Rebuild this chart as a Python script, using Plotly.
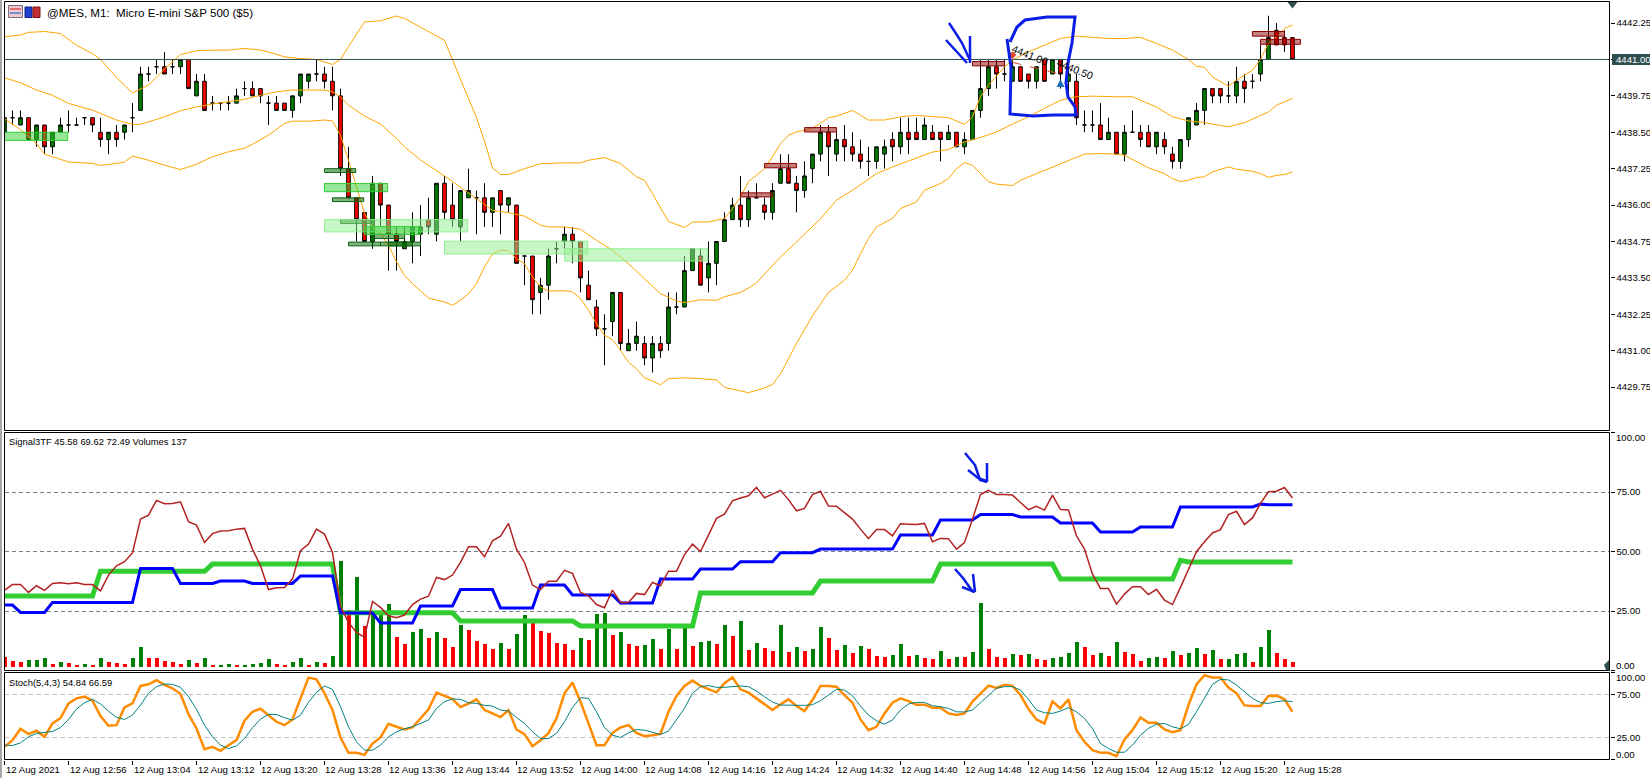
import pandas as pd
import plotly.graph_objects as go

### MES M1 chart: candles + bands, Signal3TF + volumes, Stoch

# --- Datos ---
start = pd.Timestamp("2021-08-12 12:48")
times = pd.date_range(start, periods=162, freq="min")

opens = [
    4438.5, 4439, 4438.75, 4439, 4438.25, 4438.75, 4438, 4438.5, 4438.75, 4438.75,
    4439, 4439, 4438.5, 4438.25, 4438.5, 4438.5, 4439, 4439.25, 4440.5, 4440.75,
    4440.75, 4440.75, 4440.75, 4441, 4439.75, 4440.25, 4439.5, 4439.5, 4439.5, 4439.5,
    4440, 4440, 4440, 4439.5, 4439.5, 4439.5, 4439.25, 4439.75, 4440.25, 4440.5,
    4440.5, 4440.25, 4439.75, 4437.25, 4436.25, 4435.75, 4434.75, 4436.75, 4436, 4435,
    4434.5, 4434.75, 4435, 4435.5, 4435, 4436.75, 4436, 4435.25, 4436.25, 4436.25,
    4436.25, 4435.75, 4436.5, 4436, 4436, 4434.25, 4434.25, 4433, 4433.25, 4434.5,
    4434.75, 4435, 4434.75, 4433.25, 4432.5, 4431.75, 4432, 4433, 4431, 4431.25,
    4431.25, 4430.75, 4431.25, 4431.25, 4432.5, 4432.5, 4433.75, 4434.25, 4433.5, 4434,
    4434.75, 4435.5, 4436, 4435.5, 4436.25, 4436, 4435.75, 4436.75, 4437.25, 4436.75,
    4436.5, 4437.25, 4437.75, 4438.5, 4437.75, 4438.25, 4438, 4437.75, 4437.5, 4437.5,
    4437.75, 4438.25, 4438, 4438.5, 4438.5, 4438.25, 4438.5, 4438.5, 4438.25, 4438.5,
    4438, 4438.25, 4439.25, 4440, 4440.75, 4440.5, 4440.25, 4440.75, 4440.5, 4440.25,
    4441, 4440.5, 4441, 4440.25, 4440.25, 4438.75, 4438.75, 4438.75, 4438.25, 4438.5,
    4437.75, 4438.5, 4438.5, 4438.5, 4438, 4438.25, 4437.75, 4437.5, 4438.25, 4438.75,
    4439.25, 4440, 4440, 4439.75, 4439.75, 4440.25, 4440.25, 4440.5, 4441, 4442,
    4441.75, 4441.75,
]
highs = [
    4439, 4439.25, 4439.25, 4439, 4438.75, 4438.75, 4438.5, 4439, 4439.25, 4439,
    4439, 4439, 4439, 4438.5, 4438.75, 4438.75, 4439.5, 4440.75, 4440.75, 4441,
    4441.25, 4441, 4441, 4441, 4440.5, 4440.5, 4439.75, 4439.5, 4439.75, 4440,
    4440.25, 4440.25, 4440, 4439.75, 4439.75, 4439.5, 4439.75, 4440.5, 4440.5, 4441,
    4440.75, 4440.75, 4440, 4438, 4436.25, 4435.75, 4437, 4436.75, 4436, 4435.25,
    4435.25, 4435.75, 4436, 4436.25, 4436.75, 4437, 4436.75, 4436.5, 4437.25, 4436.5,
    4436.75, 4436.25, 4436.5, 4436.25, 4436, 4434.25, 4434.25, 4433.5, 4434.5, 4434.75,
    4435.25, 4435.25, 4434.75, 4433.75, 4432.75, 4432.25, 4433, 4433, 4431.75, 4432,
    4431.5, 4431.5, 4431.5, 4433, 4433, 4434.25, 4434.5, 4434.5, 4434.75, 4434.75,
    4435.75, 4436.25, 4437, 4436.5, 4436.75, 4436.25, 4436.75, 4437.75, 4437.75, 4437,
    4437.5, 4437.75, 4438.75, 4438.75, 4438.5, 4438.75, 4438.5, 4438.25, 4438, 4438,
    4438.25, 4438.5, 4439, 4439, 4439, 4439, 4438.75, 4438.5, 4438.75, 4438.5,
    4438.5, 4439.25, 4441, 4441, 4441, 4441, 4441, 4440.75, 4440.5, 4440.75,
    4441, 4441, 4441, 4440.75, 4440.5, 4439.25, 4439.25, 4439.5, 4439, 4438.5,
    4438.75, 4439.25, 4438.75, 4438.75, 4438.5, 4438.5, 4438, 4438.25, 4439, 4439.5,
    4440, 4440, 4440, 4440.25, 4440.75, 4440.5, 4440.5, 4441.5, 4442.5, 4442.25,
    4442, 4441.75,
]
lows = [
    4438.25, 4438.75, 4438.75, 4438.25, 4438, 4437.75, 4437.75, 4438.5, 4438.5, 4438.75,
    4438.75, 4438.5, 4438, 4437.75, 4438, 4438.25, 4438.5, 4439.25, 4440.25, 4440.5,
    4440.5, 4440.5, 4440.5, 4440, 4439.75, 4439.25, 4439.25, 4439.25, 4439.25, 4439.5,
    4439.75, 4439.75, 4439.5, 4438.75, 4439.25, 4439.25, 4439, 4439.5, 4440, 4440.25,
    4440, 4439.25, 4437, 4436.25, 4434.75, 4434.75, 4434.5, 4435.25, 4433.75, 4433.75,
    4434.5, 4434, 4434.25, 4435, 4434.75, 4435.5, 4435.25, 4434.75, 4436.25, 4435,
    4435.25, 4435.25, 4435, 4435.75, 4434, 4433.25, 4432.25, 4432.25, 4432.75, 4434,
    4434.5, 4434, 4433, 4432.75, 4431.5, 4430.5, 4431.5, 4431, 4431, 4431,
    4430.5, 4430.25, 4430.75, 4431, 4432.25, 4432.5, 4433.75, 4433.25, 4433, 4433.25,
    4434.75, 4435.5, 4435.25, 4435.25, 4436.25, 4435.5, 4435.5, 4436.75, 4436.75, 4435.75,
    4436.25, 4436.75, 4437.5, 4437, 4437.5, 4437.5, 4437.5, 4437.25, 4437, 4437.25,
    4437.25, 4437.5, 4437.75, 4437.75, 4438.25, 4438.25, 4438.25, 4437.5, 4438.25, 4438,
    4437.75, 4438.25, 4439, 4439.75, 4440, 4440.25, 4440.25, 4440.25, 4440, 4440,
    4440.25, 4440.5, 4440, 4439.75, 4438.75, 4438.5, 4438.5, 4438.25, 4438.25, 4437.75,
    4437.5, 4438.5, 4438, 4438, 4437.75, 4437.75, 4437.25, 4437.25, 4438, 4438.75,
    4438.75, 4439.5, 4439.5, 4439.5, 4439.5, 4439.5, 4440, 4440.25, 4441, 4441.5,
    4441.25, 4441,
]
closes = [
    4439, 4439, 4439, 4438.25, 4438.75, 4438, 4438.5, 4438.75, 4438.75, 4438.75,
    4439, 4438.75, 4438.25, 4438.5, 4438.25, 4438.75, 4439, 4440.5, 4440.5, 4440.75,
    4440.5, 4440.75, 4441, 4440, 4440.25, 4439.25, 4439.5, 4439.5, 4439.5, 4439.75,
    4440, 4439.75, 4439.75, 4439.5, 4439.25, 4439.25, 4439.75, 4440.5, 4440.5, 4440.5,
    4440.25, 4439.75, 4437.25, 4436.25, 4435.5, 4434.75, 4436.75, 4436, 4435, 4434.75,
    4434.75, 4435.25, 4435.25, 4435.25, 4436.75, 4435.75, 4435.5, 4436.5, 4436.5, 4436.25,
    4435.75, 4436.25, 4436, 4436.25, 4434, 4434.25, 4432.75, 4433.25, 4434.25, 4434.5,
    4435, 4434.75, 4433.5, 4432.75, 4431.75, 4431.75, 4433, 4431.25, 4431.25, 4431.5,
    4430.75, 4431.25, 4431, 4432.5, 4432.5, 4433.75, 4434.5, 4433.25, 4434, 4434.75,
    4435.5, 4436, 4435.5, 4436.25, 4436.25, 4435.75, 4436.5, 4437.25, 4436.75, 4436.5,
    4437, 4437.75, 4438.5, 4438, 4438.25, 4438, 4437.75, 4437.5, 4437.5, 4438,
    4438, 4438, 4438.5, 4438.25, 4438.25, 4438.75, 4438.25, 4438.25, 4438.5, 4438,
    4438.25, 4439.25, 4440, 4440.75, 4440.5, 4440.5, 4440.75, 4440.25, 4440.25, 4440.75,
    4440.25, 4441, 4440.5, 4440.5, 4439, 4438.75, 4438.75, 4438.25, 4438.5, 4437.75,
    4438.5, 4438.5, 4438.25, 4438, 4438.5, 4438, 4437.5, 4438.25, 4439, 4439.25,
    4440, 4439.75, 4439.75, 4439.75, 4440.25, 4440, 4440.25, 4441, 4441.75, 4441.5,
    4441.5, 4441,
]

# Bandas: barra / valor en los vertices de cada curva
bb_upper_bars = [0, 2, 3, 5, 7, 9, 11, 12, 14, 16, 18, 20, 22, 24, 26, 28, 30, 32, 33, 35, 37, 39, 41, 42, 43, 45, 47, 49, 50, 52,
                 55, 57, 59, 60, 61, 62, 63, 65, 67, 70, 72, 73, 75, 77, 79, 80, 81, 82, 83, 85, 86, 88, 90, 91, 92, 93, 95, 96, 97, 98,
                 99, 101, 103, 104, 106, 107, 108, 110, 112, 114, 116, 118, 120, 121, 122, 123, 124, 125, 126, 128, 130, 132, 134, 136, 138, 140, 142, 144, 146, 148,
                 149, 150, 151, 153, 154, 155, 156, 157, 158, 159, 160, 161]
bb_upper = [4441.78, 4441.84, 4441.93, 4441.96, 4441.89, 4441.49, 4441.2, 4441.0, 4440.38, 4439.85, 4440.12, 4440.67, 4441.17, 4441.3, 4441.32, 4441.32, 4441.38, 4441.32, 4441.26, 4441.09, 4441.03, 4441.0, 4440.83, 4441, 4441.44, 4442.29, 4442.33, 4442.49, 4442.41, 4442.12,
            4441.66, 4440.32, 4439.0, 4438.2, 4437.28, 4437.05, 4437.05, 4437.25, 4437.42, 4437.45, 4437.45, 4437.54, 4437.63, 4437.43, 4436.97, 4436.85, 4436.4, 4435.9, 4435.44, 4435.23, 4435.42, 4435.42, 4435.54, 4435.88, 4436.28, 4436.8, 4437.25, 4437.66, 4438.11, 4438.4,
            4438.51, 4438.63, 4439.0, 4439.05, 4439.25, 4439.09, 4438.92, 4438.92, 4439.03, 4439.08, 4439.03, 4439, 4438.77, 4439.03, 4439.72, 4440.12, 4440.43, 4440.75, 4440.98, 4441.26, 4441.49, 4441.72, 4441.8, 4441.76, 4441.72, 4441.72, 4441.76, 4441.55, 4441.32, 4441,
            4440.77, 4440.73, 4440.4, 4440.08, 4440.29, 4440.46, 4440.63, 4441, 4441.55, 4441.78, 4442.07, 4442.18]

bb_mid_bars = [0, 2, 4, 6, 8, 11, 14, 16, 17, 18, 20, 22, 24, 26, 28, 30, 32, 34, 36, 38, 40, 41, 42, 43, 45, 47, 49, 50, 52, 55,
               57, 59, 61, 63, 65, 67, 68, 70, 72, 74, 76, 78, 80, 82, 84, 85, 87, 89, 90, 92, 93, 94, 97, 99, 102, 104, 106, 109, 111, 113,
               116, 118, 120, 122, 124, 126, 128, 130, 132, 134, 136, 139, 141, 142, 144, 146, 148, 150, 152, 153, 155, 157, 158, 159, 160, 161]
bb_mid = [4440.37, 4440.2, 4439.95, 4439.77, 4439.49, 4439.26, 4438.92, 4438.77, 4438.77, 4438.86, 4439.03, 4439.24, 4439.37, 4439.47, 4439.55, 4439.63, 4439.77, 4439.89, 4439.95, 4439.95, 4439.95, 4439.89, 4439.72, 4439.43, 4439.06, 4438.78, 4438.29, 4438.0, 4437.55, 4437.0,
          4436.62, 4436.22, 4435.82, 4435.74, 4435.62, 4435.31, 4435.25, 4435.25, 4435.17, 4434.79, 4434.45, 4433.99, 4433.47, 4432.96, 4432.71, 4432.65, 4432.75, 4432.73, 4432.85, 4433.0, 4433.15, 4433.33, 4434.22, 4434.73, 4435.53, 4436.17, 4436.51, 4437.08, 4437.31, 4437.52,
          4437.82, 4437.91, 4438.17, 4438.32, 4438.51, 4438.78, 4439.03, 4439.32, 4439.6, 4439.72, 4439.74, 4439.72, 4439.72, 4439.6, 4439.37, 4439.03, 4438.89, 4438.83, 4438.72, 4438.69, 4438.83, 4439.09, 4439.2, 4439.43, 4439.55, 4439.66]

bb_lower_bars = [0, 2, 4, 5, 6, 8, 11, 12, 14, 15, 16, 18, 20, 22, 24, 26, 28, 30, 31, 33, 35, 36, 38, 40, 41, 42, 43, 44, 45, 46,
                 47, 48, 49, 50, 51, 53, 55, 56, 57, 58, 59, 60, 61, 62, 63, 64, 65, 66, 67, 68, 70, 71, 72, 73, 74, 75, 76, 77, 78, 79,
                 80, 81, 82, 83, 85, 87, 89, 90, 91, 93, 95, 96, 97, 98, 99, 101, 103, 105, 106, 107, 108, 109, 111, 112, 114, 115, 117, 118, 119, 120,
                 121, 123, 124, 126, 127, 129, 131, 133, 135, 137, 139, 140, 142, 143, 145, 146, 147, 148, 149, 150, 151, 153, 154, 155, 156, 157, 158, 159, 160, 161]
bb_lower = [4438.97, 4438.59, 4438.11, 4437.75, 4437.66, 4437.48, 4437.43, 4437.36, 4437.43, 4437.48, 4437.68, 4437.54, 4437.37, 4437.22, 4437.4, 4437.66, 4437.83, 4437.95, 4438.09, 4438.4, 4438.8, 4438.88, 4438.88, 4438.92, 4438.89, 4438.4, 4437.54, 4436.62, 4435.71, 4435.25,
            4435.02, 4434.62, 4434.05, 4433.59, 4433.3, 4432.81, 4432.67, 4432.56, 4432.73, 4432.96, 4433.3, 4433.88, 4434.33, 4434.45, 4434.43, 4434.16, 4433.99, 4433.53, 4433.19, 4433.05, 4433.06, 4433.02, 4432.79, 4432.39, 4431.93, 4431.53, 4431.38, 4431.01, 4430.61, 4430.38,
            4430.07, 4429.96, 4429.83, 4430.04, 4430.07, 4430.04, 4430, 4429.74, 4429.68, 4429.56, 4429.72, 4429.84, 4430.2, 4430.75, 4431.25, 4432.2, 4433.0, 4433.42, 4433.76, 4434.33, 4434.85, 4435.25, 4435.54, 4435.88, 4436.11, 4436.51, 4436.74, 4436.91, 4437.25, 4437.46,
            4437.37, 4436.8, 4436.72, 4436.67, 4436.85, 4437.08, 4437.31, 4437.54, 4437.75, 4437.77, 4437.75, 4437.71, 4437.43, 4437.28, 4437.08, 4436.91, 4436.81, 4436.85, 4436.95, 4436.97, 4437.14, 4437.31, 4437.23, 4437.2, 4437.16, 4437.08, 4436.95, 4437.02, 4437.05, 4437.14]

volumes = [
    280, 164, 135, 193, 193, 251, 87, 135, 106, 29,
    77, 29, 251, 135, 106, 87, 251, 570, 251, 245,
    164, 135, 77, 193, 106, 251, 48, 48, 77, 40,
    48, 77, 106, 222, 77, 48, 135, 251, 48, 135,
    106, 309, 3065, 1644, 2601, 1180, 1606, 1606, 1810, 861,
    658, 1006, 1093, 832, 1006, 832, 571, 1209, 1064, 745,
    658, 522, 687, 522, 948, 1499, 1296, 1035, 977, 687,
    658, 484, 832, 774, 1528, 1557, 919, 1006, 658, 600,
    629, 803, 513, 1093, 513, 1122, 600, 716, 745, 658,
    1209, 890, 1325, 484, 687, 542, 455, 1209, 426, 571,
    455, 513, 1151, 832, 484, 629, 397, 600, 513, 310,
    281, 339, 658, 310, 339, 252, 223, 455, 223, 281,
    270, 426, 1847, 513, 281, 252, 368, 339, 368, 223,
    194, 252, 281, 397, 716, 571, 339, 397, 310, 716,
    426, 368, 164, 252, 281, 252, 455, 339, 397, 542,
    368, 484, 223, 223, 368, 397, 135, 571, 1064, 397,
    223, 137,
]

signal_fast = [
    33.8, 36.1, 36.1, 32.8, 35.6, 33.7, 36.6, 36.9, 36.5, 36.9,
    36.1, 36.1, 33.5, 40.1, 44, 45.7, 49.4, 63.6, 65.3, 71.5,
    70.1, 70.2, 70.9, 62.5, 61.1, 53.8, 57.5, 58.6, 58.7, 59.4,
    59.7, 51, 44, 34, 34.8, 34.9, 38.4, 50.3, 53.1, 59.4,
    57.3, 49.6, 27, 20.2, 16, 13.9, 29, 26.5, 23, 22.2,
    23.3, 27.7, 30, 31.2, 39.1, 38.2, 40.1, 45.4, 52, 52,
    47.8, 54.5, 56.4, 61.8, 51, 45.4, 35.9, 34, 37.5, 37.5,
    42.1, 40.8, 32.8, 31.4, 27.7, 26.4, 33.8, 28.6, 28.6, 32.4,
    31.9, 37, 35.6, 41.7, 41.7, 48.7, 53.1, 50, 56.9, 63.9,
    65.7, 71.3, 72.5, 73.4, 76.9, 72.6, 74.1, 75.7, 71.8, 67.1,
    68.1, 73.9, 75.3, 69.1, 69, 66.4, 63.6, 59.4, 55.4, 59.2,
    59.2, 56.6, 61.7, 61.5, 61.3, 61.8, 54.1, 55.5, 55.4, 51,
    53.8, 63.6, 73.9, 75.7, 73.9, 73.9, 73.7, 70.6, 67.6, 69,
    67.4, 73.7, 67.6, 67.4, 56.6, 51, 40.5, 34.5, 34.5, 27.9,
    32.1, 35.2, 35.2, 31.9, 34.1, 29.6, 27.7, 34.9, 42.6, 49.9,
    54.1, 57.8, 59.2, 65.5, 66.9, 61.3, 64.1, 70.2, 75.1, 75.3,
    76.9, 72.49,
]
signal_mid_bars = [0, 1, 2, 5, 6, 16, 17, 21, 22, 26, 27, 30, 31, 36, 37, 41, 42, 46, 47, 51, 52, 56, 57, 61, 62, 66, 67, 70, 71, 76,
                   77, 81, 82, 86, 87, 91, 92, 96, 97, 101, 102, 111, 112, 116, 117, 121, 122, 126, 127, 131, 132, 136, 137, 141, 142, 146, 147, 156, 157, 158, 161]
signal_mid = [27.5, 27.5, 24.4, 24.4, 28.6, 28.6, 42.9, 42.9, 36.6, 36.6, 37.6, 37.6, 36.6, 36.6, 39.7, 39.7, 24.2, 24.2, 20, 20, 27.1, 27.1, 34, 34, 26.3, 26.3, 35.9, 35.9, 31.7, 31.7,
              28.4, 28.4, 38.4, 38.4, 42.6, 42.6, 45.7, 45.7, 49.5, 49.5, 51, 51, 56.9, 56.9, 63.2, 63.2, 65.5, 65.5, 64.5, 64.5, 62, 62, 58.2, 58.2, 60.3, 60.3, 68.7, 68.7, 69.9, 69.6, 69.62]
signal_slow_bars = [0, 11, 12, 25, 26, 41, 42, 56, 57, 71, 72, 86, 87, 101, 102, 116, 117, 131, 132, 146, 147, 148, 161]
signal_slow = [31.3, 31.3, 41.7, 41.7, 44.7, 44.7, 24.3, 24.3, 20.8, 20.8, 18.7, 18.7, 32.6, 32.6, 37.6, 37.6, 44.7, 44.7, 38.4, 38.4, 46.3, 45.58, 45.58]

stoch_main = [
    14.1, 21.9, 35.1, 28.9, 32.8, 25.8, 41.3, 47.5, 64.5, 70.3,
    72.3, 67.6, 49.8, 38.6, 39.3, 59.9, 64.5, 84.7, 86.6, 91.3,
    85.9, 82, 75.4, 52.1, 35.5, 11.4, 14.1, 9.5, 16.1, 21.9,
    44.4, 54.8, 58.3, 51, 43.2, 39.3, 45.9, 70.3, 94.4, 92.4,
    76.2, 56.8, 25, 7.2, 7.2, 4.8, 18, 25, 40.9, 37.4,
    34.3, 36.6, 47.1, 57.6, 76.9, 73.4, 69.6, 60.3, 64.2, 69.2,
    56.8, 52.9, 48.6, 56.8, 34.3, 28.9, 14.9, 21.9, 30, 47.1,
    76.2, 88.6, 66.5, 41.3, 16.1, 16.1, 30.4, 36.6, 39.3, 30.4,
    26.6, 27.7, 29.3, 54.8, 73.1, 84.7, 90.9, 84.7, 80.8, 77.3,
    87.8, 94.8, 80.8, 76.9, 70.3, 63.8, 56.8, 63.4, 69.2, 61.4,
    55.6, 68.4, 84.7, 84.7, 83.9, 74.2, 65.3, 45.9, 33.5, 37.4,
    52.9, 65.3, 70.3, 67.2, 63, 63, 59.5, 59.5, 52.9, 51,
    52.9, 66.5, 76.2, 85.1, 82.4, 86.2, 84.7, 74.2, 57.9, 45.9,
    41.3, 66.9, 58.7, 69.2, 33.5, 20, 10.3, 7.2, 7.2, 3.3,
    22.7, 33.5, 48.3, 42.1, 42.1, 34.3, 31.2, 33.5, 62.6, 86.6,
    97.1, 94.4, 94.4, 82.8, 76.2, 62.2, 61.4, 61.4, 73.1, 73.5,
    69.2, 54.84,
]
stoch_signal = [
    16.1, 15.7, 18.8, 25.8, 29.7, 30.8, 32, 36.6, 45.9, 57.9,
    65.3, 69.2, 63.8, 55.6, 48.3, 45.9, 51, 62.6, 76.2, 83.9,
    87, 86.6, 83.1, 72.3, 57.6, 39.3, 25.8, 16.1, 12.2, 15.3,
    23.8, 36.2, 46.3, 51.7, 51.7, 47.9, 45.2, 51, 65.7, 77.3,
    84.7, 80.8, 60.7, 37.4, 20, 10.3, 10.3, 16.1, 25.8, 31.6,
    35.1, 37.4, 41.3, 45.2, 58.7, 66.5, 69.6, 69.2, 65.3, 64.5,
    62.2, 61.4, 56.8, 55.6, 48.3, 41.3, 31.6, 23.8, 23.8, 29.7,
    43.2, 59.9, 71.1, 70.3, 54.8, 36.6, 27.7, 25, 30.4, 34.3,
    33.5, 31.2, 28.5, 32.4, 45.9, 58.7, 76.2, 83.9, 85.1, 83.1,
    83.1, 84.3, 84.7, 83.9, 78.9, 72.3, 66.1, 62.6, 62.2, 62.2,
    62.2, 63, 67.6, 74.2, 80.8, 80, 73.4, 61.4, 51, 44.4,
    40.5, 45.2, 56.8, 63.8, 65.7, 65.7, 61.8, 60.7, 58.7, 54.8,
    54.5, 56.8, 65.3, 74.2, 82, 83.9, 83.9, 80, 69.2, 56.8,
    53.7, 52.9, 55.6, 59.5, 54.8, 47.1, 35.5, 18, 12.2, 7.9,
    7.9, 16.1, 27.7, 35.5, 40.5, 41.3, 37.4, 35.1, 40.1, 54.8,
    70.3, 86.6, 92.4, 91.7, 85.9, 78.1, 70.3, 65.3, 64.5, 66.5,
    67.6, 66.59,
]

# Zonas (barra inicial, barra final, precio bajo, precio alto, tipo)
zone_start = [0, 40, 40, 41, 42, 43, 47, 48, 46, 40, 45, 55, 70, 92, 95, 100, 121, 156, 157]
zone_end = [7.9, 47.9, 43.9, 44.9, 45.9, 47, 51, 52, 50, 57.9, 52, 72.9, 87.9, 96, 99, 104, 125, 160, 162]
zone_low = [4438.22, 4436.46, 4437.12, 4436.12, 4435.37, 4434.6, 4434.6, 4434.6, 4434.85, 4435.08, 4434.99, 4434.32, 4434.08, 4436.28, 4437.28, 4438.51, 4440.78, 4441.8, 4441.52]
zone_high = [4438.5, 4436.74, 4437.25, 4436.25, 4435.5, 4434.73, 4434.73, 4434.73, 4435, 4435.5, 4435.26, 4434.76, 4434.5, 4436.42, 4437.43, 4438.66, 4440.93, 4441.96, 4441.69]
zone_kind = ["mid", "mid", "dark", "dark", "dark", "dark", "dark", "dark", "dark", "light", "mid", "light", "light", "red", "red", "red", "red", "red", "red"]

price_ticks = [4442.25, 4441.00, 4439.75, 4438.50, 4437.25, 4436.00, 4434.75, 4433.50, 4432.25, 4431.00, 4429.75]
bid_price = 4441.00
indicator_ticks = [0, 25, 50, 75, 100]
stoch_ticks = [0, 25, 75, 100]
time_labels = ["12 Aug 2021", "12 Aug 12:56", "12 Aug 13:04", "12 Aug 13:12", "12 Aug 13:20", "12 Aug 13:28", "12 Aug 13:36",
               "12 Aug 13:44", "12 Aug 13:52", "12 Aug 14:00", "12 Aug 14:08", "12 Aug 14:16", "12 Aug 14:24", "12 Aug 14:32",
               "12 Aug 14:40", "12 Aug 14:48", "12 Aug 14:56", "12 Aug 15:04", "12 Aug 15:12", "12 Aug 15:20", "12 Aug 15:28"]
time_ticks = pd.date_range(start, periods=len(time_labels), freq="8min")

WIDTH, HEIGHT = 1650, 778
FONT = "Liberation Sans"
SMALL = 9.6
BLUE_PEN = "#0A1EE6"
DARK = "#2F4F4F"
ZONE_STYLE = {
    "mid": ("rgba(50,205,50,0.5)", "#32CD32"),
    "light": ("rgba(144,238,144,0.5)", "#90EE90"),
    "dark": ("rgba(0,100,0,0.5)", "#0B650B"),
    "red": ("rgba(139,0,0,0.5)", "#8B0000"),
}


def px(x):
    return x / WIDTH


def py(y):
    return 1 - y / HEIGHT


def bar_time(k):
    return start + pd.Timedelta(minutes=k)


def at_bars(bars):
    return [times[k] for k in bars]


def pen(points, width=2.5, color=BLUE_PEN):
    """Trazo a mano alzada, puntos en pixeles de la imagen."""
    d = "M " + " L ".join(f"{px(a):.5f} {py(b):.5f}" for a, b in points)
    return dict(type="path", path=d, xref="paper", yref="paper", line=dict(color=color, width=width))


def box(x0, y0, x1, y1, fill="rgba(0,0,0,0)", line="black", width=1):
    return dict(type="rect", xref="paper", yref="paper", x0=px(x0), x1=px(x1), y0=py(y0), y1=py(y1),
                fillcolor=fill, line=dict(color=line, width=width))


def label(x, y, text, color="black", xanchor="left", size=SMALL, **kw):
    return dict(xref="paper", yref="paper", x=px(x), y=py(y), text=text, showarrow=False, xanchor=xanchor,
                yanchor="middle", font=dict(family=FONT, size=size, color=color), borderpad=0, **kw)


fig = go.Figure()

# --- Panel de precios ---
for bars, vals in [(bb_upper_bars, bb_upper), (bb_mid_bars, bb_mid), (bb_lower_bars, bb_lower)]:
    fig.add_trace(go.Scatter(x=at_bars(bars), y=vals, mode="lines", yaxis="y", line=dict(color="#FFA500", width=1)))

fig.add_trace(go.Candlestick(
    x=times, open=opens, high=highs, low=lows, close=closes, yaxis="y", whiskerwidth=0,
    increasing=dict(fillcolor="#008000", line=dict(color="black", width=1)),
    decreasing=dict(fillcolor="#FF0000", line=dict(color="black", width=1)),
))
fig.add_trace(go.Scatter(x=[times[161]], y=[4442.9], mode="markers", yaxis="y",
                         marker=dict(symbol="triangle-down", size=9, color=DARK)))
fig.add_trace(go.Scatter(x=[times[126]], y=[4441.15], mode="markers", yaxis="y",
                         marker=dict(symbol="diamond", size=6, color="#E0452B")))
fig.add_trace(go.Scatter(x=[times[132]], y=[4440.33], mode="markers", yaxis="y",
                         marker=dict(symbol="arrow-up", size=8, color="#1A6FB5", line=dict(width=0))))

# --- Panel Signal3TF + Volumes ---
vol_colors = ["#FF0000"] + ["#008000" if b >= a else "#FF0000" for a, b in zip(volumes, volumes[1:])]
fig.add_trace(go.Bar(x=times, y=volumes, yaxis="y2", width=30000, marker=dict(color=vol_colors, line=dict(width=0))))
fig.add_trace(go.Scatter(x=at_bars(signal_slow_bars), y=signal_slow, mode="lines", yaxis="y3",
                         line=dict(color="#32CD32", width=5)))
fig.add_trace(go.Scatter(x=at_bars(signal_mid_bars), y=signal_mid, mode="lines", yaxis="y3",
                         line=dict(color="#0000FF", width=3)))
fig.add_trace(go.Scatter(x=times, y=signal_fast, mode="lines", yaxis="y3", line=dict(color="#B22222", width=1.5)))

# --- Panel Stoch ---
fig.add_trace(go.Scatter(x=times, y=stoch_main, mode="lines", yaxis="y4", line=dict(color="#FF8C00", width=2.5)))
fig.add_trace(go.Scatter(x=times, y=stoch_signal, mode="lines", yaxis="y4", line=dict(color="#008080", width=1)))

# --- Objetos del grafico ---
shapes = [
    box(0, 0, 1.5, 778, fill="#A8A8A8", line="#A8A8A8"),
    # iconos del titulo
    box(8.5, 5.5, 22.5, 17.5, fill="#F4C8C8", line="#707088"),
    box(10, 8, 21, 10, fill="#E07070", line="#E07070", width=0),
    box(10, 12, 21, 14, fill="#7090D0", line="#7090D0", width=0),
    box(25, 7, 32, 17.5, fill="#2040D0", line="#102080"),
    box(33, 7, 40, 17.5, fill="#C03030", line="#801010"),
    dict(type="line", xref="paper", yref="y", x0=px(4.5), x1=px(1609.5), y0=bid_price, y1=bid_price,
         line=dict(color=DARK, width=1)),
    box(1612, 54, 1650, 65, fill=DARK, line=DARK, width=0),
]
for a, b, lo, hi, kind in zip(zone_start, zone_end, zone_low, zone_high, zone_kind):
    fill, edge = ZONE_STYLE[kind]
    shapes.append(dict(type="rect", xref="x", yref="y", x0=bar_time(a), x1=bar_time(b), y0=lo, y1=hi,
                       fillcolor=fill, line=dict(color=edge, width=1)))
shapes.append(dict(type="line", xref="x", yref="y", x0=times[126], x1=times[132], y0=4440.9, y1=4440.5,
                   line=dict(color="#E0452B", width=1, dash="dash")))

# marcas a mano (azul)
shapes += [
    pen([(1010, 42), (1017, 27), (1025, 20), (1047, 17), (1075, 17), (1072, 43), (1068, 63), (1066, 83), (1068, 97),
         (1075, 107), (1076, 115), (1053, 115), (1033, 116), (1010, 114), (1011, 67), (1007, 39)], width=3),
    pen([(949, 23), (955, 32), (962, 43), (968, 56), (970, 60)]),
    pen([(946, 40), (957, 52), (967, 63)]),
    pen([(970, 36), (970, 63)]),
    pen([(965, 453), (975, 465), (980, 480), (987, 482)]),
    pen([(968, 470), (978, 478), (986, 481)]),
    pen([(987, 463), (987, 482)]),
    pen([(955, 569), (963, 578), (973, 592)]),
    pen([(962, 587), (975, 592)]),
    pen([(973, 574), (975, 592)]),
]
# marcador del panel y marcos
shapes.append(dict(type="path", xref="paper", yref="paper", fillcolor=DARK, line=dict(color=DARK, width=0),
                   path=f"M {px(1609)} {py(660)} L {px(1604)} {py(665)} L {px(1606)} {py(670)} L {px(1609)} {py(670)} Z"))
shapes += [box(4.5, 1.5, 1609.5, 430.5), box(4.5, 432.5, 1609.5, 670.5), box(4.5, 672.5, 1609.5, 759.5)]

annotations = [
    label(45.5, 12, "@MES, M1:&nbsp; Micro E-mini S&amp;P 500 ($5)", size=11.6),
    label(7.5, 442, "Signal3TF 45.58 69.62 72.49 Volumes 137", size=9.4),
    label(7.5, 682, "Stoch(5,4,3) 54.84 66.59", size=9.4),
    label(1615, 437, "100.00"),
    label(1615, 665, "0.00"),
    label(1615, 677, "100.00"),
    label(1615, 754, "0.00"),
    label(1615, 59.5, "4441.00", color="white"),
    label(1030, 55, "4441.00", xanchor="center", textangle=22, size=10.5),
    label(1075, 69, "4440.50", xanchor="center", textangle=22, size=10.5),
]
for t, text in zip(time_ticks, time_labels):
    annotations.append(dict(xref="x", yref="paper", x=t, y=py(769), text=text, showarrow=False, xanchor="left",
                            yanchor="middle", font=dict(family=FONT, size=SMALL, color="black"), borderpad=0))

right_axis = dict(side="right", showgrid=False, zeroline=False, showline=False, ticks="outside", ticklen=4,
                  tickcolor="black", tickfont=dict(family=FONT, size=SMALL, color="black"), tickmode="array",
                  fixedrange=True)

fig.update_layout(
    width=WIDTH, height=HEIGHT, margin=dict(l=0, r=0, t=0, b=0), showlegend=False,
    paper_bgcolor="white", plot_bgcolor="white", boxgap=0.35, bargap=0,
    shapes=shapes, annotations=annotations,
    xaxis=dict(type="date", domain=[px(4.5), px(1609.5)], anchor="y4", rangeslider=dict(visible=False),
               range=[bar_time(0), bar_time(200.63)], tickmode="array", tickvals=list(time_ticks),
               showticklabels=False, ticks="outside", ticklen=4, tickcolor="black", showgrid=False, zeroline=False),
    yaxis=dict(domain=[py(430.5), py(1.5)], range=[4428.26, 4442.99], tickvals=price_ticks,
               ticktext=["" if v == bid_price else f"{v:.2f}" for v in price_ticks], **right_axis),
    yaxis2=dict(domain=[py(670.5), py(432.5)], range=[-125, 6777], visible=False, fixedrange=True),
    yaxis3=dict(overlaying="y2", range=[0, 100], tickvals=indicator_ticks,
                ticktext=["" if v in (0, 100) else f"{v:.2f}" for v in indicator_ticks],
                **{**right_axis, "showgrid": True}, gridcolor="#708090", griddash="4px,3px", gridwidth=1),
    yaxis4=dict(domain=[py(759.5), py(672.5)], range=[-0.5, 100.3], tickvals=stoch_ticks,
                ticktext=["" if v in (0, 100) else f"{v:.2f}" for v in stoch_ticks],
                **{**right_axis, "showgrid": True}, gridcolor="#C0C0C0", griddash="4px,4px", gridwidth=1),
)

for name, arr in [("opens", opens), ("highs", highs), ("lows", lows), ("closes", closes), ("volumes", volumes),
                  ("signal_fast", signal_fast), ("stoch_main", stoch_main), ("stoch_signal", stoch_signal)]:
    assert len(arr) == len(times), (name, len(arr))
for a, b in [(bb_upper_bars, bb_upper), (bb_mid_bars, bb_mid), (bb_lower_bars, bb_lower),
             (signal_mid_bars, signal_mid), (signal_slow_bars, signal_slow)]:
    assert len(a) == len(b), (len(a), len(b))

fig.write_html("out.html", config=dict(displayModeBar=False), post_script="document.body.style.margin='0';")
